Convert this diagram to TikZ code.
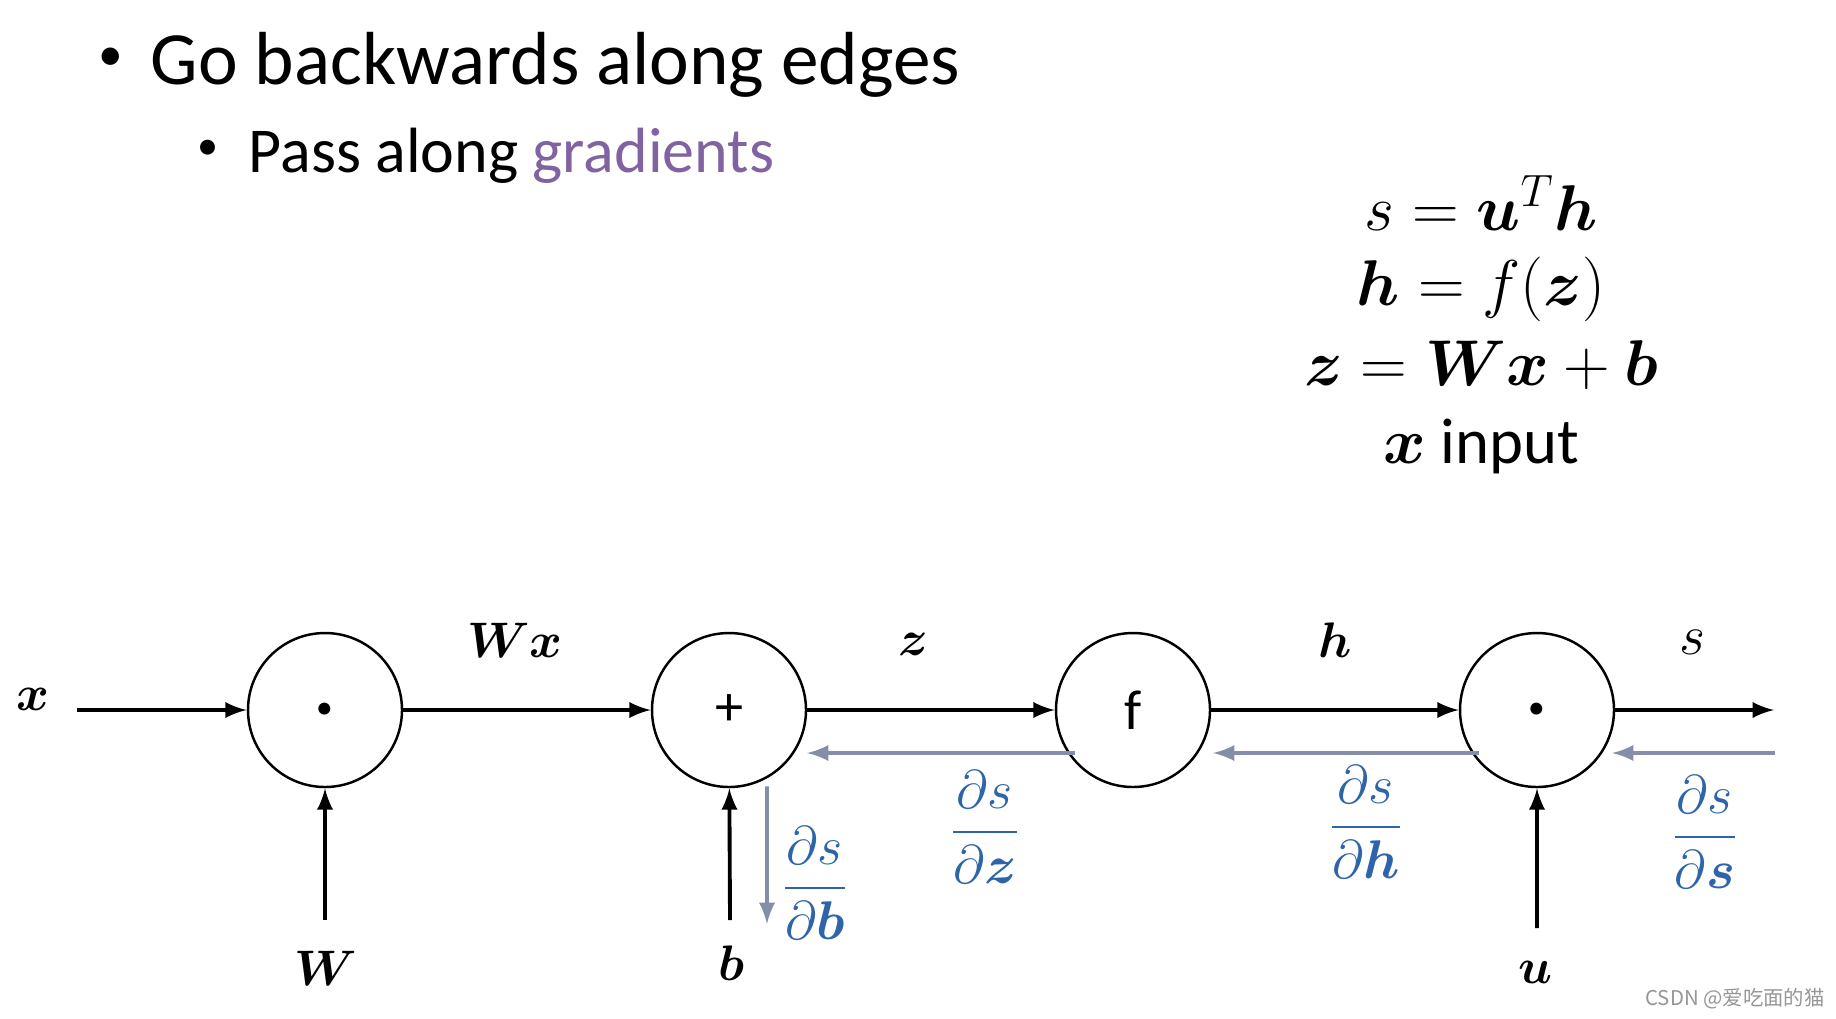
\documentclass[tikz,border=0pt]{standalone}
\usepackage{fix-cm}
\usepackage{fontspec}
\usepackage{amsmath}
\usepackage{bm}
\usepackage{xcolor}
\setmainfont{Carlito}
\newfontfamily\cjkfont{Noto Sans CJK SC}
\usetikzlibrary{arrows, positioning, calc}
\definecolor{gradblue}{RGB}{46, 100, 170}
\definecolor{backgray}{RGB}{132, 142, 168}
\definecolor{accentpurple}{RGB}{128, 100, 162}
\definecolor{markgray}{RGB}{150, 150, 150}
\tikzstyle{op} = [circle, draw=black, line width=0.7pt, minimum size=1.54cm, inner sep=0pt, font=\fontsize{16}{16}\selectfont]
\tikzstyle{var} = [font=\fontsize{14.2}{15}\selectfont]
\tikzstyle{grad} = [text=gradblue, font=\fontsize{15.5}{16}\selectfont]
\tikzstyle{eqn} = [anchor=base, font=\fontsize{18.4}{22}\selectfont]
\tikzstyle{arrow} = [line width=1.1pt,->,>=latex]
\tikzstyle{back} = [line width=1.1pt,->,>=latex, draw=backgray]

\begin{document}
\begin{tikzpicture}[node distance=4.04cm]
\useasboundingbox (0,0) rectangle (18.36,-10.18);

% Bullet Text
\node (bulleta) [font=\fontsize{14}{14}\selectfont] at (1.11,-0.59) {•};
\node (title) [anchor=base west, inner sep=0pt, font=\fontsize{21.4}{24}\selectfont] at (1.50,-0.84) {Go backwards along edges};
\node (bulletb) [font=\fontsize{12}{12}\selectfont] at (2.08,-1.50) {•};
\node (subtitle) [anchor=base west, inner sep=0pt, font=\fontsize{18.2}{20}\selectfont] at (2.48,-1.72) {Pass along \textcolor{accentpurple}{gradients}};

% Equations
\node (eqs) [eqn] at (14.81,-2.30) {$s = \bm{u}^{T}\bm{h}$};
\node (eqh) [eqn] at (14.81,-3.05) {$\bm{h} = f(\bm{z})$};
\node (eqz) [eqn] at (14.81,-3.85) {$\bm{z} = \bm{W}\bm{x} + \bm{b}$};
\node (eqx) [eqn] at (14.81,-4.63) {$\bm{x}$ input};

% Operation Layer
\node (dotW) [op, font=\fontsize{22}{22}\selectfont] at (3.25,-7.10) {$\bm{\cdot}$};
\node (plus) [op, right of=dotW] {+};
\node (func) [op, right of=plus] {f};
\node (dotu) [op, right of=func, font=\fontsize{22}{22}\selectfont] {$\bm{\cdot}$};

% Inputs and Outputs
\coordinate (xin) at (0.77,-7.10);
\coordinate (sout) at (17.74,-7.10);
\coordinate (Win) at (3.25,-9.20);
\coordinate (bin) at (7.30,-9.20);
\coordinate (uin) at (15.37,-9.28);
\coordinate (gradin) at (17.75,-7.53);
\coordinate (gradbend) at (7.67,-9.24);

% Variable Labels
\node (xlab) [var] at (0.33,-6.99) {$\bm{x}$};
\node (Wxlab) [var] at (5.15,-6.40) {$\bm{W}\bm{x}$};
\node (zlab) [var] at (9.13,-6.44) {$\bm{z}$};
\node (hlab) [var] at (13.35,-6.40) {$\bm{h}$};
\node (slab) [var, font=\fontsize{16}{16}\selectfont] at (16.92,-6.42) {$s$};
\node (Wlab) [var] at (3.26,-9.68) {$\bm{W}$};
\node (blab) [var] at (7.31,-9.63) {$\bm{b}$};
\node (ulab) [var] at (15.35,-9.72) {$\bm{u}$};

% Gradient Labels
\node (dsdb) [grad] at (8.15,-8.83) {$\dfrac{\partial s}{\partial \bm{b}}$};
\node (dsdz) [grad] at (9.85,-8.27) {$\dfrac{\partial s}{\partial \bm{z}}$};
\node (dsdh) [grad] at (13.66,-8.22) {$\dfrac{\partial s}{\partial \bm{h}}$};
\node (dsds) [grad] at (17.05,-8.32) {$\dfrac{\partial s}{\partial \bm{s}}$};

% Forward Arrows
\draw [arrow] (xin) -- (dotW);
\draw [arrow] (dotW) -- (plus);
\draw [arrow] (plus) -- (func);
\draw [arrow] (func) -- (dotu);
\draw [arrow] (dotu) -- (sout);
\draw [arrow] (Win) -- (dotW);
\draw [arrow] (bin) -- (plus);
\draw [arrow] (uin) -- (dotu);

% Backward Arrows
\draw [back] (gradin) -- ($(dotu.center)+(0.75,-0.43)$);
\draw [back] ($(dotu.center)+(-0.58,-0.43)$) -- ($(func.center)+(0.80,-0.43)$);
\draw [back] ($(func.center)+(-0.58,-0.43)$) -- ($(plus.center)+(0.78,-0.43)$);
\draw [back] ($(plus.south)+(0.38,0.02)$) -- (gradbend);

% Watermark
\node (mark) [text=markgray, font=\cjkfont\fontsize{5.8}{6}\selectfont] at (17.35,-9.99) {CSDN @爱吃面的猫};

\end{tikzpicture}
\end{document}
